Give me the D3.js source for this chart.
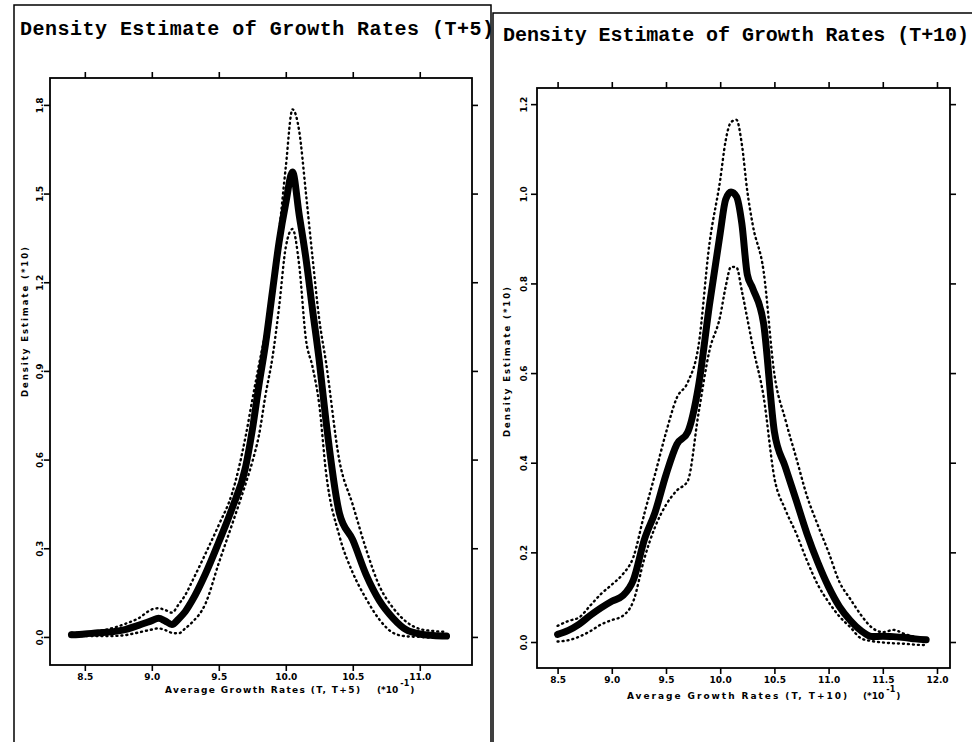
<!DOCTYPE html>
<html><head><meta charset="utf-8">
<script src="https://cdn.jsdelivr.net/npm/d3@7/dist/d3.min.js"></script>
<style>body{margin:0;background:#fff}</style>
</head><body>
<svg id="c" width="972" height="742"></svg>
<script>
// ---------- data ----------
const gridT5 = [8.4,8.5,8.6,8.7,8.8,8.9,9.0,9.05,9.1,9.15,9.2,9.25,9.3,9.4,9.5,9.6,9.7,9.75,9.8,9.85,9.9,9.95,10.0,10.05,10.1,10.15,10.2,10.25,10.3,10.4,10.5,10.6,10.7,10.8,10.9,11.0,11.1,11.2];
const estT5   = [0.007,0.010,0.014,0.017,0.025,0.039,0.055,0.063,0.054,0.042,0.061,0.086,0.122,0.213,0.321,0.436,0.575,0.700,0.853,0.995,1.167,1.336,1.468,1.573,1.428,1.282,1.106,0.934,0.731,0.419,0.328,0.210,0.122,0.064,0.024,0.010,0.005,0.003];
const upperT5 = [0.014,0.015,0.020,0.029,0.044,0.063,0.093,0.097,0.091,0.082,0.110,0.142,0.187,0.281,0.379,0.487,0.678,0.802,0.921,1.037,1.190,1.370,1.590,1.785,1.712,1.503,1.282,1.074,0.930,0.597,0.447,0.296,0.171,0.099,0.051,0.027,0.020,0.017];
const lowerT5 = [0.003,0.003,0.003,0.003,0.006,0.015,0.025,0.029,0.023,0.014,0.012,0.029,0.049,0.112,0.250,0.382,0.518,0.592,0.683,0.822,0.944,1.116,1.319,1.380,1.258,1.008,0.913,0.785,0.558,0.342,0.217,0.129,0.058,0.014,0.002,0.000,-0.003,-0.003];
const xTicksT5 = [8.5,9.0,9.5,10.0,10.5,11.0];
const yTicksT5 = [0.0,0.3,0.6,0.9,1.2,1.5,1.8];

const gridT10 = [8.5,8.6,8.7,8.8,8.9,9.0,9.1,9.2,9.3,9.4,9.5,9.6,9.7,9.8,9.9,10.0,10.05,10.1,10.15,10.2,10.25,10.3,10.4,10.5,10.6,10.7,10.8,10.9,11.0,11.1,11.2,11.3,11.4,11.5,11.6,11.7,11.8,11.9];
const estT10   = [0.017,0.026,0.040,0.059,0.076,0.091,0.103,0.139,0.228,0.290,0.373,0.441,0.468,0.571,0.751,0.912,0.987,1.004,0.994,0.933,0.820,0.789,0.711,0.469,0.391,0.317,0.242,0.178,0.123,0.079,0.048,0.025,0.012,0.013,0.012,0.010,0.007,0.005];
const upperT10 = [0.036,0.047,0.055,0.081,0.107,0.128,0.151,0.190,0.286,0.375,0.467,0.545,0.579,0.661,0.887,1.031,1.118,1.160,1.165,1.110,1.006,0.931,0.828,0.597,0.497,0.412,0.326,0.261,0.200,0.134,0.096,0.060,0.032,0.022,0.027,0.018,0.011,0.004];
const lowerT10 = [0.001,0.004,0.012,0.024,0.039,0.049,0.058,0.092,0.186,0.257,0.306,0.338,0.359,0.510,0.649,0.727,0.792,0.837,0.836,0.783,0.722,0.660,0.548,0.366,0.296,0.243,0.182,0.128,0.089,0.057,0.033,0.008,0.002,-0.001,-0.003,-0.004,-0.006,-0.007];
const xTicksT10 = [8.5,9.0,9.5,10.0,10.5,11.0,11.5,12.0];
const yTicksT10 = [0.0,0.2,0.4,0.6,0.8,1.0,1.2];

const titles  = ["Density Estimate of Growth Rates (T+5)", "Density Estimate of Growth Rates (T+10)"];
const yTitle  = "Density Estimate  (*10)";
const xTitles = ["Average Growth Rates (T, T+5)", "Average Growth Rates (T, T+10)"];
const xUnit   = ["(*10", "-1", ")"];

// ---------- drawing ----------
const svg = d3.select("#c");
const ink = "#000";
const sans = "'DejaVu Sans',sans-serif";

// outer frames
svg.append("path").attr("d","M14,760 L14,5 L491,5 L491,760").attr("fill","none").attr("stroke",ink).attr("stroke-width",1.5);
svg.append("path").attr("d","M493,760 L493,13 L972,13").attr("fill","none").attr("stroke",ink).attr("stroke-width",1.5);

const panels = [
  {grid:gridT5, est:estT5, up:upperT5, lo:lowerT5, xt:xTicksT5, yt:yTicksT5,
   box:{l:50,r:472,t:78,b:665}, xdom:[8.24,11.39], ydom:[-0.095,1.891],
   title:titles[0], titleX:20, titleY:35, titleLen:474,
   xTitle:xTitles[0], xTitleX:165, xTitleLen:195, unitX:377, xTitleY:693,
   yTitleX:25, yTitleY:322, yTitleLen:150, tickLabX:40},
  {grid:gridT10, est:estT10, up:upperT10, lo:lowerT10, xt:xTicksT10, yt:yTicksT10,
   box:{l:537,r:950,t:88,b:668}, xdom:[8.31,12.12], ydom:[-0.058,1.236],
   title:titles[1], titleX:503, titleY:41, titleLen:466,
   xTitle:xTitles[1], xTitleX:627, xTitleLen:220, unitX:863, xTitleY:699,
   yTitleX:507, yTitleY:362, yTitleLen:150, tickLabX:524}
];

panels.forEach(p => {
  const x = d3.scaleLinear().domain(p.xdom).range([p.box.l, p.box.r]);
  const y = d3.scaleLinear().domain(p.ydom).range([p.box.b, p.box.t]);
  const g = svg.append("g");

  // title
  g.append("text").attr("x",p.titleX).attr("y",p.titleY)
    .attr("font-family","'Liberation Mono','DejaVu Sans Mono',monospace")
    .attr("font-weight","bold").attr("font-size",20)
    .attr("textLength",p.titleLen).attr("lengthAdjust","spacing")
    .attr("fill",ink).text(p.title);

  // frame
  g.append("rect").attr("x",p.box.l).attr("y",p.box.t)
    .attr("width",p.box.r-p.box.l).attr("height",p.box.b-p.box.t)
    .attr("fill","none").attr("stroke",ink).attr("stroke-width",1.8);

  const styleAxis = (sel) => {
    sel.select(".domain").remove();
    sel.selectAll(".tick line").attr("stroke",ink).attr("stroke-width",1.6);
  };
  // bottom axis with labels
  const xb = g.append("g").attr("transform",`translate(0,${p.box.b})`)
    .call(d3.axisBottom(x).tickValues(p.xt).tickSize(6).tickPadding(3).tickFormat(d3.format(".1f")));
  styleAxis(xb);
  xb.selectAll("text").attr("font-family",sans).attr("font-weight","bold")
    .attr("font-size",9).attr("fill",ink);
  // top axis
  const xt = g.append("g").attr("transform",`translate(0,${p.box.t})`)
    .call(d3.axisTop(x).tickValues(p.xt).tickSize(6).tickFormat(""));
  styleAxis(xt);
  // left axis with rotated labels
  const yl = g.append("g").attr("transform",`translate(${p.box.l},0)`)
    .call(d3.axisLeft(y).tickValues(p.yt).tickSize(6).tickFormat(d3.format(".1f")));
  styleAxis(yl);
  yl.selectAll(".tick text")
    .attr("x",0).attr("dy",0)
    .attr("transform",`translate(${p.tickLabX - p.box.l},0) rotate(-90)`)
    .attr("text-anchor","middle").attr("dominant-baseline","central")
    .attr("font-family",sans).attr("font-weight","bold")
    .attr("font-size",9).attr("fill",ink);
  // right axis
  const yr = g.append("g").attr("transform",`translate(${p.box.r},0)`)
    .call(d3.axisRight(y).tickValues(p.yt).tickSize(6).tickFormat(""));
  styleAxis(yr);

  // x axis title
  g.append("text").attr("x",p.xTitleX).attr("y",p.xTitleY)
    .attr("font-family",sans).attr("font-weight","bold").attr("font-size",9)
    .attr("textLength",p.xTitleLen).attr("lengthAdjust","spacing")
    .attr("fill",ink).text(p.xTitle);
  const u = g.append("text").attr("x",p.unitX).attr("y",p.xTitleY)
    .attr("font-family",sans).attr("font-weight","bold").attr("font-size",9).attr("fill",ink);
  u.append("tspan").text(xUnit[0]);
  u.append("tspan").attr("dx",2).attr("dy",-7).attr("font-size",8).text(xUnit[1]);
  u.append("tspan").attr("dx",1).attr("dy",7).text(xUnit[2]);

  // y axis title
  g.append("text").attr("transform",`translate(${p.yTitleX},${p.yTitleY}) rotate(-90)`)
    .attr("x",-p.yTitleLen/2).attr("dominant-baseline","central")
    .attr("font-family",sans).attr("font-weight","bold").attr("font-size",8.5)
    .attr("textLength",p.yTitleLen).attr("lengthAdjust","spacing")
    .attr("fill",ink).text(yTitle);

  // curves
  const line = (vals) => d3.line().x((d,i)=>x(p.grid[i])).y(d=>y(d)).curve(d3.curveMonotoneX)(vals);
  [p.up, p.lo].forEach(vals => {
    g.append("path").attr("d",line(vals)).attr("fill","none").attr("stroke",ink)
      .attr("stroke-width",2.4).attr("stroke-dasharray","1,4").attr("stroke-linecap","round");
  });
  g.append("path").attr("d",line(p.est)).attr("fill","none").attr("stroke",ink)
    .attr("stroke-width",7).attr("stroke-linejoin","round").attr("stroke-linecap","round");
});
</script>
</body></html>
